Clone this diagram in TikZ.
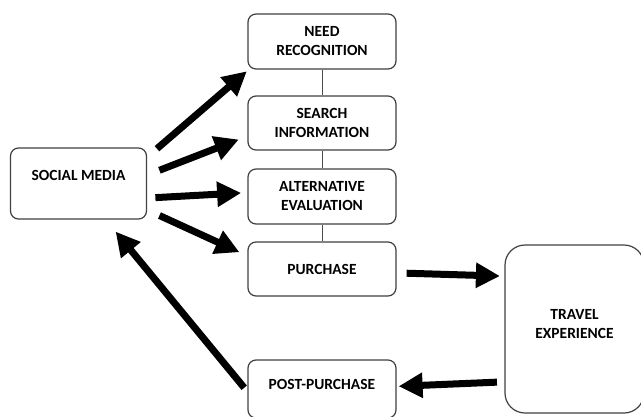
\documentclass[tikz,border=0pt]{standalone}
\usepackage{fontspec}
\setmainfont{Carlito}
\usepackage{tikz}
\usetikzlibrary{arrows.meta,positioning}

\begin{document}
\begin{tikzpicture}[
    x=1pt, y=-1pt,
    every node/.style={font=\bfseries\fontsize{15.5}{19}\selectfont},
    box/.style={draw=black!75, line width=1.2pt, rounded corners=8pt, fill=white, align=center, minimum width=148pt, inner sep=0pt},
    arr/.style={-{Triangle[length=24pt,width=24pt]}, line width=7pt},
    link/.style={draw=black!70, line width=1pt}
]
\useasboundingbox (0,0) rectangle (641,416);

% decision stages
\node[box, minimum height=55pt] (need) at (322,41.5) {NEED\\RECOGNITION};
\node[box, minimum height=54pt] (search) at (322,123) {SEARCH\\INFORMATION};
\node[box, minimum height=55pt] (alt) at (322,196.5) {ALTERNATIVE\\EVALUATION};
\node[box, minimum height=54pt] (purchase) at (322,269) {PURCHASE};
\node[box, minimum height=58pt, text height=10pt, text depth=10pt] (post) at (322,389) {POST-PURCHASE};

% outer boxes
\node[box, minimum width=136pt, minimum height=71pt, text height=10pt, text depth=16pt] (social) at (78.5,183.5) {SOCIAL MEDIA};
\node[box, rounded corners=20pt, minimum width=139pt, minimum height=168pt, text depth=10pt] (travel) at (574.5,329) {TRAVEL\\EXPERIENCE};

\draw[link] (need) -- (search);
\draw[link] (search) -- (alt);
\draw[link] (alt) -- (purchase);

\draw[arr, shorten <=13pt, shorten >=2.6pt] (social.21.5) -- (need.201.3);
\draw[arr, shorten <=13.2pt, shorten >=9.3pt] (social.7.35) -- (search.190);
\draw[arr, shorten <=8.3pt, shorten >=6.3pt] (social.348.8) -- (alt.177.4);
\draw[arr, shorten <=13.6pt, shorten >=8.8pt] (social.339.4) -- (purchase.170.6);
\draw[arr, shorten <=10pt, shorten >=4.5pt] (purchase.357.7) -- (travel.143.5);
\draw[arr, shorten <=7.5pt, shorten >=2pt] (travel.217.5) -- (post.2.3);
\draw[arr, shorten <=5pt, shorten >=15.6pt] (post.182) -- (social.307.8);
\end{tikzpicture}
\end{document}
